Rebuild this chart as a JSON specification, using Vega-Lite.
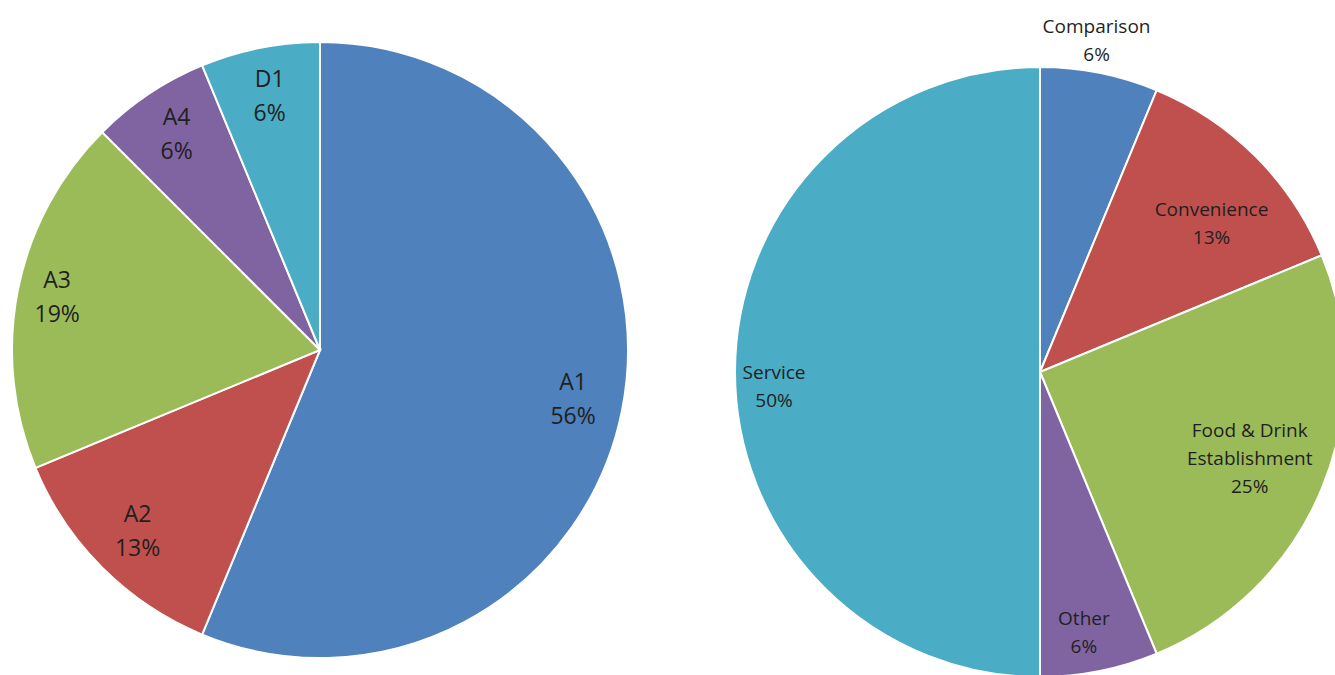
{
  "$schema": "https://vega.github.io/schema/vega-lite/v6.json",
  "padding": 0,
  "spacing": 105,
  "bounds": "flush",
  "background": "white",
  "config": {"view": {"stroke": null}, "text": {"font": "Open Sans", "lineBreak": "\n", "baseline": "middle", "color": "#1f1f1f"}},
  "resolve": {"scale": {"color": "independent", "theta": "independent"}},
  "hconcat": [
    {
      "width": 640,
      "height": 675,
      "data": {"values": [
        {"name": "A1", "value": 9, "label": "A1\n56%"},
        {"name": "A2", "value": 2, "label": "A2\n13%"},
        {"name": "A3", "value": 3, "label": "A3\n19%"},
        {"name": "A4", "value": 1, "label": "A4\n6%"},
        {"name": "D1", "value": 1, "label": "D1\n6%"}
      ]},
      "encoding": {
        "theta": {"field": "value", "type": "quantitative", "stack": true},
        "color": {"field": "name", "type": "nominal", "legend": null,
          "scale": {"domain": ["A1", "A2", "A3", "A4", "D1"], "range": ["#4F81BD", "#C0504D", "#9BBB59", "#8064A2", "#4BACC6"]}}
      },
      "layer": [
        {"mark": {"type": "arc", "radius": 308, "stroke": "white", "strokeWidth": 2, "yOffset": 12.5}},
        {"mark": {"type": "text", "radius": 258, "yOffset": 12.5, "dy": -17, "fontSize": 23, "lineHeight": 34},
         "encoding": {"text": {"condition": {"test": "datum.name != 'A3'", "field": "label"}, "value": ""}, "color": {"value": "#1f1f1f"}}},
        {"mark": {"type": "text", "radius": 268, "yOffset": 12.5, "dy": -17, "fontSize": 23, "lineHeight": 34},
         "encoding": {"text": {"condition": {"test": "datum.name == 'A3'", "field": "label"}, "value": ""}, "color": {"value": "#1f1f1f"}}}
      ]
    },
    {
      "width": 590,
      "height": 675,
      "data": {"values": [
        {"name": "Comparison", "value": 1, "label": "Comparison\n6%"},
        {"name": "Convenience", "value": 2, "label": "Convenience\n13%"},
        {"name": "Food & Drink Establishment", "value": 4, "label": "Food & Drink\nEstablishment\n25%"},
        {"name": "Other", "value": 1, "label": "Other\n6%"},
        {"name": "Service", "value": 8, "label": "Service\n50%"}
      ]},
      "encoding": {
        "theta": {"field": "value", "type": "quantitative", "stack": true},
        "color": {"field": "name", "type": "nominal", "legend": null,
          "scale": {"domain": ["Comparison", "Convenience", "Food & Drink Establishment", "Other", "Service"], "range": ["#4F81BD", "#C0504D", "#9BBB59", "#8064A2", "#4BACC6"]}}
      },
      "layer": [
        {"mark": {"type": "arc", "radius": 305, "stroke": "white", "strokeWidth": 2, "yOffset": 34.5}},
        {"mark": {"type": "text", "radius": 227, "yOffset": 34.5, "dx": 11, "dy": -1.5, "fontSize": 19, "lineHeight": 28},
         "encoding": {"text": {"condition": {"test": "datum.name == 'Convenience'", "field": "label"}, "value": ""}, "color": {"value": "#1f1f1f"}}},
        {"mark": {"type": "text", "radius": 227, "yOffset": 34.5, "dy": -28, "fontSize": 19, "lineHeight": 28},
         "encoding": {"text": {"condition": {"test": "datum.name == 'Food & Drink Establishment'", "field": "label"}, "value": ""}, "color": {"value": "#1f1f1f"}}},
        {"mark": {"type": "text", "radius": 266, "yOffset": 34.5, "dx": -8, "dy": -14, "fontSize": 19, "lineHeight": 28},
         "encoding": {"text": {"condition": {"test": "datum.name == 'Other'", "field": "label"}, "value": ""}, "color": {"value": "#1f1f1f"}}},
        {"mark": {"type": "text", "radius": 266, "yOffset": 34.5, "dy": 1, "fontSize": 19, "lineHeight": 28},
         "encoding": {"text": {"condition": {"test": "datum.name == 'Service'", "field": "label"}, "value": ""}, "color": {"value": "#1f1f1f"}}},
        {"mark": {"type": "text", "radius": 336, "yOffset": 34.5, "dx": -9, "dy": -15, "fontSize": 19, "lineHeight": 28},
         "encoding": {"text": {"condition": {"test": "datum.name == 'Comparison'", "field": "label"}, "value": ""}, "color": {"value": "#1f1f1f"}}}
      ]
    }
  ]
}
